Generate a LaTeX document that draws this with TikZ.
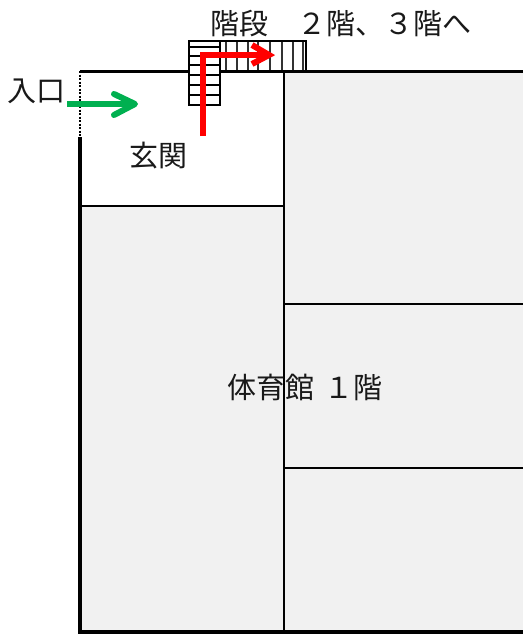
\documentclass[tikz,border=0pt]{standalone}
\usepackage{fontspec}
\setmainfont{Noto Sans CJK JP}
\definecolor{roomgray}{HTML}{F1F1F1}
\definecolor{entrygreen}{HTML}{00B050}
\tikzset{
  wall/.style={draw=black,line width=3pt},
  partition/.style={draw=black,line width=2pt},
  tread/.style={draw=black,line width=1.8pt},
  label/.style={font=\fontsize{29}{29}\selectfont,inner sep=0pt,text=black!90},
  redroute/.style={draw=red,line width=5.4pt,line join=miter},
  redhead/.style={draw=red,line width=6pt,line join=miter},
  greenroute/.style={draw=entrygreen,line width=6pt,line cap=round,line join=round}
}
\begin{document}
\begin{tikzpicture}[x=1pt,y=-1pt]
\useasboundingbox (0,0) rectangle (523,634);
\fill[white] (0,0) rectangle (523,634);
% rooms
\fill[roomgray] (80,206) rectangle (284,632);
\fill[roomgray] (284,71) rectangle (523,632);
% interior lines
\draw[partition] (80,206) -- (284,206);
\draw[partition] (284,71) -- (284,632);
\draw[partition] (284,304) -- (523,304);
\draw[partition] (284,468) -- (523,468);
% outer walls
\draw[wall] (80,71) -- (523,71);
\draw[wall,line width=3.6pt] (80,137) -- (80,632) -- (523,632);
\draw[draw=black,line width=1.2pt,dash pattern=on 2pt off 1.5pt] (80,71) -- (80,137);
% stairs
\fill[white] (189,41) rectangle (220,105);
\fill[white] (220,41) rectangle (306,71);
\foreach \y in {47,56,65,75,85,95} \draw[tread] (189,\y) -- (220,\y);
\foreach \x in {226,237,248,258,270,282,293,303} \draw[draw=black!80,line width=2.6pt] (\x,41) -- (\x,71);
\draw[tread] (189,41) rectangle (220,105);
\draw[tread] (220,41) -- (306,41) -- (306,71);
\draw[wall] (220,71) -- (306,71);
% labels
\node[label] (stairs) at (341,24) {階段　２階、３階へ};
\node[label] (entry) at (36,91) {入口};
\node[label] (hall) at (158,156) {玄関};
\node[label] (gym) at (305,387) {体育館\kern3pt{} １階};
% arrows
\coordinate (rs) at (203,136);
\coordinate (rc) at (203,55);
\coordinate (re) at (269,55);
\coordinate (ra) at (252,45);
\coordinate (rb) at (252,64);
\draw[redroute] (rs) -- (rc) -- (re);
\draw[redhead] (ra) -- (re) -- (rb);
\coordinate (gs) at (67,104);
\coordinate (ge) at (135,104);
\coordinate (ga) at (114,94);
\coordinate (gb) at (114,115);
\draw[greenroute,line cap=butt] (gs) -- (ge);
\draw[greenroute] (ga) -- (ge) -- (gb);
\end{tikzpicture}
\end{document}
